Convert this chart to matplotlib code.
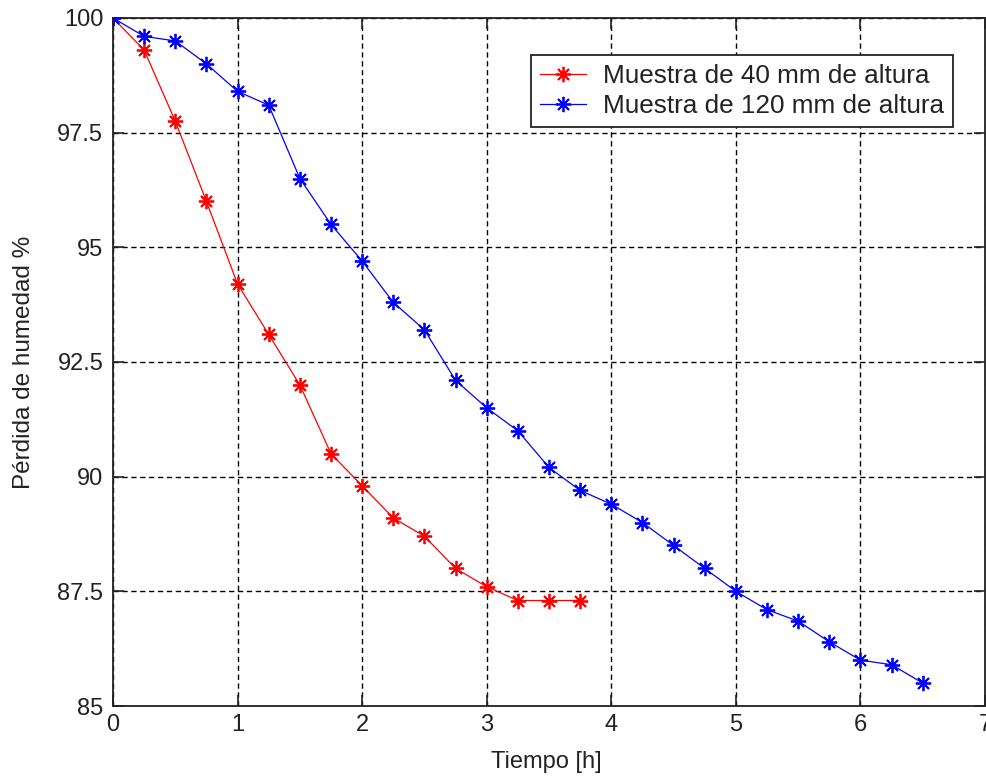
import matplotlib
matplotlib.use("Agg")
import matplotlib.pyplot as plt

plt.rcParams['font.family'] = ['Liberation Sans', 'DejaVu Sans']
plt.rcParams['lines.scale_dashes'] = False

t_40 = [0, 0.25, 0.5, 0.75, 1, 1.25, 1.5, 1.75, 2, 2.25, 2.5, 2.75, 3, 3.25, 3.5, 3.75]
h_40 = [100, 99.3, 97.75, 96.0, 94.2, 93.1, 92.0, 90.5, 89.8, 89.1, 88.7, 88.0, 87.6, 87.3, 87.3, 87.3]

t_120 = [0, 0.25, 0.5, 0.75, 1, 1.25, 1.5, 1.75, 2, 2.25, 2.5, 2.75, 3, 3.25, 3.5, 3.75,
         4, 4.25, 4.5, 4.75, 5, 5.25, 5.5, 5.75, 6, 6.25, 6.5]
h_120 = [100, 99.6, 99.5, 99.0, 98.4, 98.1, 96.5, 95.5, 94.7, 93.8, 93.2, 92.1, 91.5, 91.0, 90.2, 89.7,
         89.4, 89.0, 88.5, 88.0, 87.5, 87.1, 86.85, 86.4, 86.0, 85.9, 85.5]

labels = ['Muestra de 40 mm de altura', 'Muestra de 120 mm de altura']
xticks = [0, 1, 2, 3, 4, 5, 6, 7]
yticks = [85, 87.5, 90, 92.5, 95, 97.5, 100]
ytick_labels = ['85', '87.5', '90', '92.5', '95', '97.5', '100']

W, H = 987, 778
fig = plt.figure(figsize=(W / 100, H / 100), dpi=100)
ax = fig.add_axes([113 / W, 72 / H, 872 / W, 688 / H])

ast = (8, 2, 0)
ax.plot(t_40, h_40, color='red', lw=0.9, marker=ast, ms=11, mew=1.3, label=labels[0], zorder=3)
ax.plot(t_120, h_120, color='blue', lw=0.9, marker=ast, ms=11, mew=1.3, label=labels[1], zorder=3)

ax.set_xlim(0, 7)
ax.set_ylim(85, 100)
ax.set_xticks(xticks)
ax.set_yticks(yticks)
ax.set_yticklabels(ytick_labels)
ax.grid(True, color='black', linestyle=(0, (3.8, 2.6)), linewidth=1.0)
ax.set_axisbelow(True)
for s in ax.spines.values():
    s.set_linewidth(1.3)
    s.set_color('#222222')
ax.tick_params(direction='in', top=True, right=True, length=8, width=1.2,
               labelsize=17, colors='#222222')
ax.tick_params(axis='x', pad=5.5)
ax.tick_params(axis='y', pad=7)
ax.set_xlabel('Tiempo [h]', fontsize=17, color='#222222')
ax.set_ylabel('Pérdida de humedad %', fontsize=17.5, color='#222222')
ax.xaxis.set_label_coords(0.497, -(773 - 706) / 688)
ax.xaxis.label.set_verticalalignment('bottom')
ax.yaxis.set_label_coords((35 - 113) / 872, 0.5)

leg = ax.legend(loc='upper right', bbox_to_anchor=(953 / W, 1 - 55 / H),
                bbox_transform=fig.transFigure, fontsize=18.8, frameon=True,
                fancybox=False, framealpha=1, edgecolor='#222222', borderpad=0.35,
                labelspacing=0.22, handlelength=1.76, handletextpad=0.65, borderaxespad=0)
leg.get_frame().set_linewidth(1.3)
for txt in leg.get_texts():
    txt.set_color('#222222')

fig.savefig('out.png', dpi=100)
